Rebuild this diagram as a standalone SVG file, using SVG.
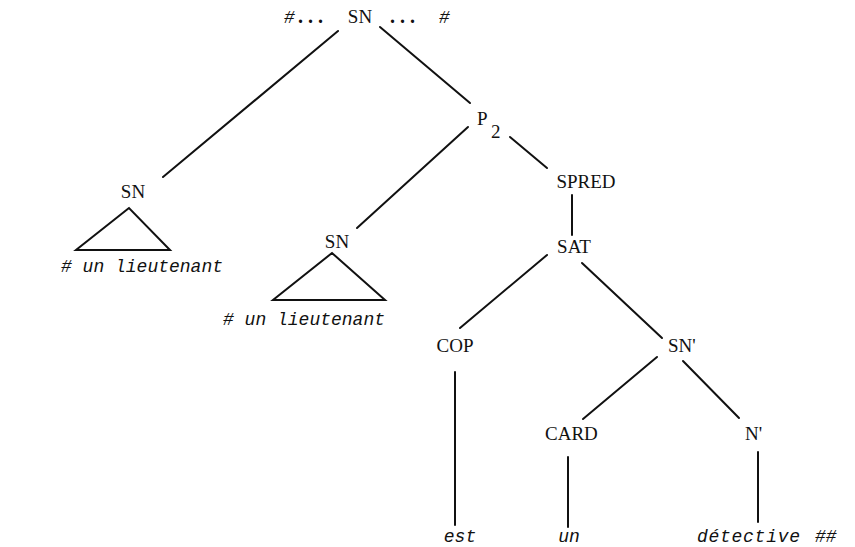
<svg xmlns="http://www.w3.org/2000/svg" width="855" height="547" viewBox="0 0 855 547">
<style>
.lab{font-family:"Liberation Serif",serif;font-size:19px;fill:#111}
.it{font-family:"Liberation Mono",monospace;font-style:italic;font-size:18px;fill:#111}
.dots{font-family:"Liberation Serif",serif;font-weight:bold;font-size:20px;fill:#111;letter-spacing:5px}
.ln{stroke:#111;stroke-width:2;fill:none;stroke-linecap:round}
</style>
<rect width="855" height="547" fill="#fff"/>
<g id="connectors" class="ln">
<line x1="338" y1="31" x2="163" y2="177"/>
<line x1="380" y1="27" x2="470" y2="103"/>
<line x1="468" y1="127" x2="357" y2="228"/>
<line x1="510" y1="137" x2="547" y2="168"/>
<line x1="572" y1="195" x2="572" y2="235"/>
<line x1="547" y1="255" x2="460" y2="328"/>
<line x1="582" y1="263" x2="662" y2="338"/>
<line x1="657" y1="357" x2="583" y2="419"/>
<line x1="683" y1="361" x2="739" y2="418"/>
<line x1="455" y1="372" x2="455" y2="525"/>
<line x1="568" y1="457" x2="568" y2="527"/>
<line x1="758" y1="452" x2="758" y2="522"/>
</g>
<g id="top">
<text class="it" x="284" y="23">#</text>
<text class="dots" x="298" y="23">...</text>
<text class="lab" x="360" y="23" text-anchor="middle">SN</text>
<text class="dots" x="390" y="23">...</text>
<text class="it" x="439" y="23">#</text>
</g>
<g id="sn-left">
<text class="lab" x="133" y="198" text-anchor="middle">SN</text>
<polygon class="ln" points="129,208 76,250 170,250"/>
<text class="it" x="61" y="272"># un lieutenant</text>
</g>
<g id="p2">
<text class="lab" x="477" y="125">P</text>
<text class="lab" x="491" y="138">2</text>
</g>
<g id="sn-mid">
<text class="lab" x="337" y="248" text-anchor="middle">SN</text>
<polygon class="ln" points="332,253 273,300 385,300"/>
<text class="it" x="223" y="325"># un lieutenant</text>
</g>
<g id="spred"><text class="lab" x="586" y="188" text-anchor="middle">SPRED</text></g>
<g id="sat"><text class="lab" x="574" y="253" text-anchor="middle">SAT</text></g>
<g id="cop"><text class="lab" x="455" y="352" text-anchor="middle">COP</text></g>
<g id="snprime"><text class="lab" x="668" y="352">SN'</text></g>
<g id="card"><text class="lab" x="545" y="440">CARD</text></g>
<g id="nprime"><text class="lab" x="745" y="440">N'</text></g>
<g id="est"><text class="it" x="460" y="542" text-anchor="middle">est</text></g>
<g id="un"><text class="it" x="569" y="542" text-anchor="middle">un</text></g>
<g id="detective"><text class="it" x="697" y="542" textLength="103" lengthAdjust="spacing">détective</text><text class="it" x="815" y="542">##</text></g>
</svg>
